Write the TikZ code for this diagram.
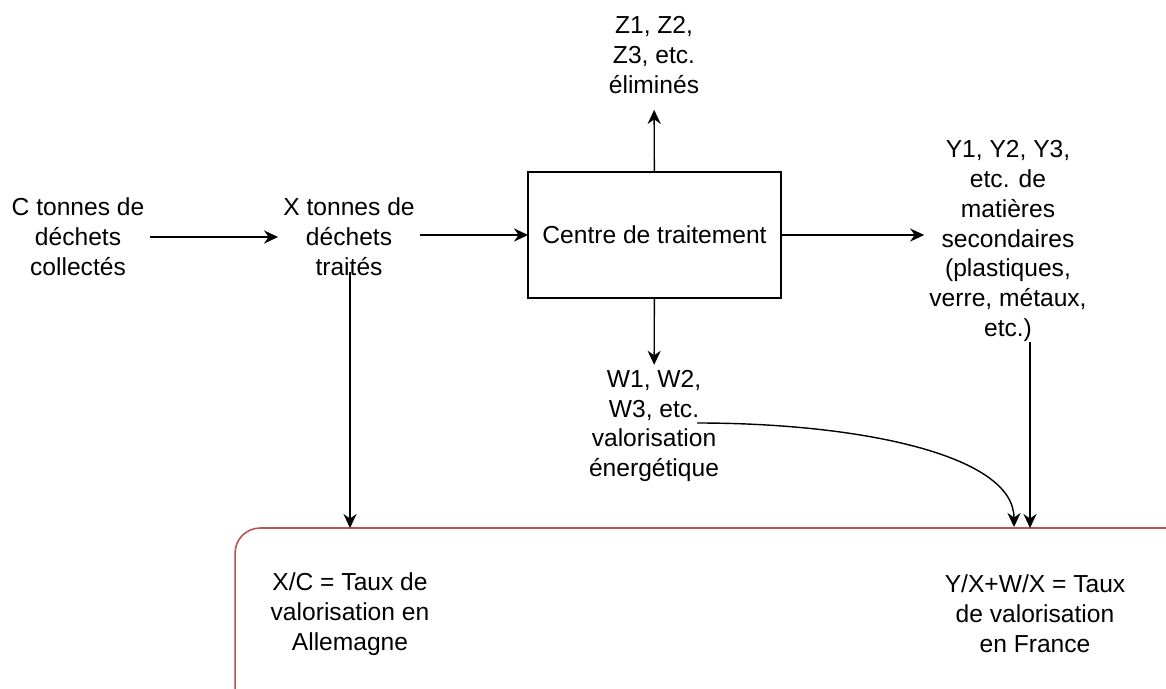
\documentclass[tikz,border=0pt]{standalone}
\usepackage{fontspec}
\setmainfont{Liberation Sans}
\usetikzlibrary{arrows.meta}
\definecolor{tauxred}{HTML}{B85450}

\begin{document}
\begin{tikzpicture}[x=0.02cm, y=-0.02cm,
    every node/.style={font=\fontsize{14}{17}\selectfont, align=center, inner sep=3pt, outer sep=0pt},
    flow/.style={-{Stealth[length=8pt, width=7.5pt]}, line width=0.8pt},
    centrebox/.style={draw, line width=0.9pt, minimum width=5.06cm, minimum height=2.52cm},
    tauxbox/.style={draw=tauxred, line width=0.9pt, rounded corners=0.5cm, minimum width=19.3cm, minimum height=3.84cm}]
    \clip (0,0) rectangle (1166,689);

    % Flow
    \node (collect) at (78,237) {C tonnes de\\déchets\\collectés};
    \node (traites) at (349,237) {X tonnes de\\déchets\\traités};
    \node[centrebox] (centre) at (654.5,235) {Centre de traitement};
    \node (elimines) at (654,55) {Z1, Z2,\\Z3, etc.\\éliminés};
    \node (energie) at (654,426) {W1, W2,\\W3, etc.\\valorisation\\énergétique};
    \node (matieres) at (1008,241) {Y1, Y2, Y3,\\etc. de\\matières\\secondaires\\(plastiques,\\verre, métaux,\\etc.)};

    % Rates
    \node[tauxbox] (taux) at (717.5,624) {};
    \node (allemagne) at (350,614) {X/C = Taux de\\valorisation en\\Allemagne};
    \node (france) at (1035,614) {Y/X+W/X = Taux\\de valorisation\\en France};

    \coordinate (xfoot) at (350,272);
    \coordinate (yfoot) at (1030,342);
    \coordinate (wstart) at (697,423);

    % Arrows
    \draw[flow] (collect) -- (traites);
    \draw[flow] (traites.east |- centre.west) -- (centre.west);
    \draw[flow] (centre.east) -- (centre.east -| matieres.west);
    \draw[flow, shorten >=0.22cm] (centre) -- (elimines);
    \draw[flow] (centre) -- (energie);
    \draw[flow] (xfoot) -- (xfoot |- taux.north);
    \draw[flow] (yfoot) -- (yfoot |- taux.north);
    \draw[flow] (wstart) .. controls (860,423) and (1014,455) .. (1014,527);

\end{tikzpicture}
\end{document}
